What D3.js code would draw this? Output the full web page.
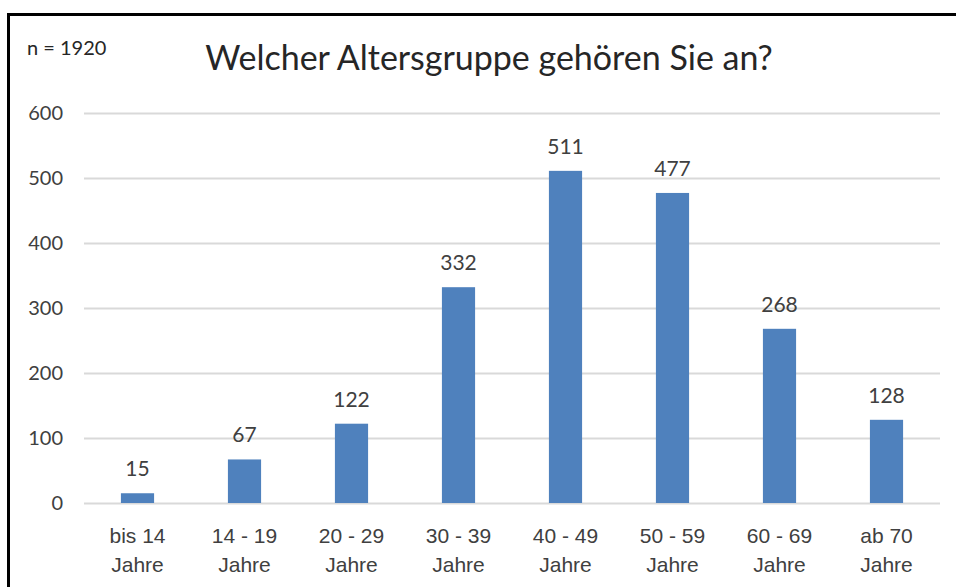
<!DOCTYPE html>
<html>
<head>
<meta charset="utf-8">
<script src="https://cdn.jsdelivr.net/npm/d3@7"></script>
<style>
  body { margin: 0; background: #fff; }
  svg { display: block; font-family: Lato, "Open Sans", sans-serif; }
</style>
</head>
<body>
<div id="chart"></div>
<script>
const categories = [["bis 14", "Jahre"], ["14 - 19", "Jahre"], ["20 - 29", "Jahre"], ["30 - 39", "Jahre"],
    ["40 - 49", "Jahre"], ["50 - 59", "Jahre"], ["60 - 69", "Jahre"], ["ab 70", "Jahre"]];
const values = [15, 67, 122, 332, 511, 477, 268, 128];
const yTicks = [0, 100, 200, 300, 400, 500, 600];
const title = "Welcher Altersgruppe gehören Sie an?";
const note = "n = 1920";

const width = 956, height = 587;
const margin = {top: 113, right: 16, bottom: 84, left: 84};

const svg = d3.select("#chart").append("svg")
    .attr("width", width)
    .attr("height", height);

// Rahmen
svg.append("path")
    .attr("d", "M8.5," + height + "V14.5H" + width)
    .attr("fill", "none")
    .attr("stroke", "#000")
    .attr("stroke-width", 3);

const x = d3.scaleBand()
    .domain(categories.map(d => d[0]))
    .range([margin.left, width - margin.right])
    .paddingInner(0.69)
    .paddingOuter(0.345);

const y = d3.scaleLinear()
    .domain([0, 600])
    .range([height - margin.bottom, margin.top]);

// Gitterlinien
svg.append("g")
    .selectAll("line")
    .data(yTicks)
    .enter()
    .append("line")
    .attr("x1", margin.left)
    .attr("x2", width - margin.right)
    .attr("y1", d => Math.round(y(d)) + 0.5)
    .attr("y2", d => Math.round(y(d)) + 0.5)
    .attr("stroke", "#d9d9d9")
    .attr("stroke-width", 2);

// y-Achse
const yAxis = svg.append("g")
    .attr("transform", "translate(" + (margin.left - 21) + ",0)")
    .call(d3.axisLeft(y).tickValues(yTicks).tickSize(0).tickPadding(0));
yAxis.select(".domain").remove();
yAxis.selectAll("text")
    .attr("font-size", 20)
    .attr("font-family", "Lato, sans-serif")
    .attr("fill", "#404040");

// Balken
svg.append("g")
    .selectAll("rect")
    .data(values)
    .enter()
    .append("rect")
    .attr("x", (d, i) => x(categories[i][0]))
    .attr("y", d => y(d))
    .attr("width", x.bandwidth())
    .attr("height", d => y(0) - y(d))
    .attr("fill", "#4f81bd");

// Werte
svg.append("g")
    .selectAll("text")
    .data(values)
    .enter()
    .append("text")
    .attr("x", (d, i) => x(categories[i][0]) + x.bandwidth() / 2)
    .attr("y", d => y(d) - 17)
    .attr("text-anchor", "middle")
    .attr("font-size", 21)
    .attr("fill", "#404040")
    .text(d => d);

// x-Achse
const xAxis = svg.append("g")
    .attr("transform", "translate(0," + y(0) + ")")
    .call(d3.axisBottom(x).tickSize(0).tickFormat(""));
xAxis.select(".domain").remove();
xAxis.selectAll(".tick").each(function (d, i) {
    const t = d3.select(this).append("text")
        .attr("text-anchor", "middle")
        .attr("font-size", 21)
        .attr("fill", "#404040");
    categories[i].forEach((line, j) => {
        t.append("tspan")
            .attr("x", 0)
            .attr("y", 40 + j * 29)
            .text(line);
    });
});

// Titel
svg.append("text")
    .attr("x", 489)
    .attr("y", 70)
    .attr("text-anchor", "middle")
    .attr("font-size", 34)
    .attr("fill", "#262626")
    .text(title);

svg.append("text")
    .attr("x", 27)
    .attr("y", 55)
    .attr("font-size", 20)
    .attr("fill", "#262626")
    .text(note);
</script>
</body>
</html>
